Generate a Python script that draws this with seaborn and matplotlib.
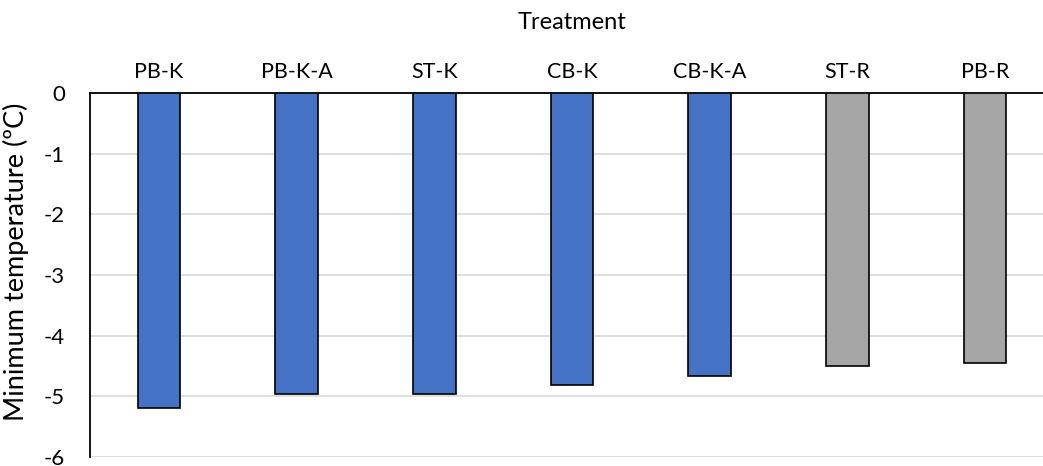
import matplotlib
matplotlib.use("Agg")
import matplotlib.pyplot as plt
import seaborn as sns
import pandas as pd

# Minimum temperature reached under each treatment
treatments = ["PB-K", "PB-K-A", "ST-K", "CB-K", "CB-K-A", "ST-R", "PB-R"]
min_temps = [-5.19, -4.97, -4.96, -4.81, -4.66, -4.51, -4.46]
groups = ["K", "K", "K", "K", "K", "R", "R"]
y_ticks = [0, -1, -2, -3, -4, -5, -6]

df = pd.DataFrame({"Treatment": treatments, "Tmin": min_temps, "Group": groups})

sns.set_theme(style="white")
plt.rcParams["font.family"] = ["Lato", "DejaVu Sans"]
plt.rcParams["axes.unicode_minus"] = False

fig = plt.figure(figsize=(10.43, 4.66), dpi=100)
ax = fig.add_axes([90 / 1043, 1 - 456.7 / 466, (1054 - 90) / 1043, (456.7 - 93.3) / 466])

sns.barplot(
    data=df, x="Treatment", y="Tmin", hue="Group", order=treatments,
    palette={"K": "#4472C4", "R": "#A5A5A5"}, saturation=1, dodge=False, width=0.31,
    edgecolor="black", linewidth=1.2, legend=False, ax=ax, zorder=3,
)

ax.set_xlim(-0.5, len(treatments) - 0.5)
ax.set_ylim(-6, 0)
ax.set_yticks(y_ticks)
ax.set_yticklabels([str(v) for v in y_ticks], fontsize=16, color="black")
ax.grid(axis="y", color="#d9d9d9", linewidth=1.2, zorder=0)
ax.grid(axis="x", visible=False)

# Category labels and axis title above the zero line
ax.xaxis.tick_top()
ax.xaxis.set_label_position("top")
ax.set_xticks(range(len(treatments)))
ax.set_xticklabels(treatments, fontsize=15.5, color="black")
ax.tick_params(axis="x", length=0, pad=8)
ax.tick_params(axis="y", length=0, pad=18)
ax.set_xlabel("Treatment", fontsize=17, color="black", labelpad=24)
ax.set_ylabel("Minimum temperature (ºC)", fontsize=19.5, color="black")
ax.yaxis.set_label_coords(-0.063, 0.535)

for side in ["bottom", "right"]:
    ax.spines[side].set_visible(False)
ax.spines["top"].set_color("black")
ax.spines["top"].set_linewidth(1.3)
ax.spines["left"].set_color("black")
ax.spines["left"].set_linewidth(1.3)

fig.savefig("out.png", dpi=100, facecolor="white")
